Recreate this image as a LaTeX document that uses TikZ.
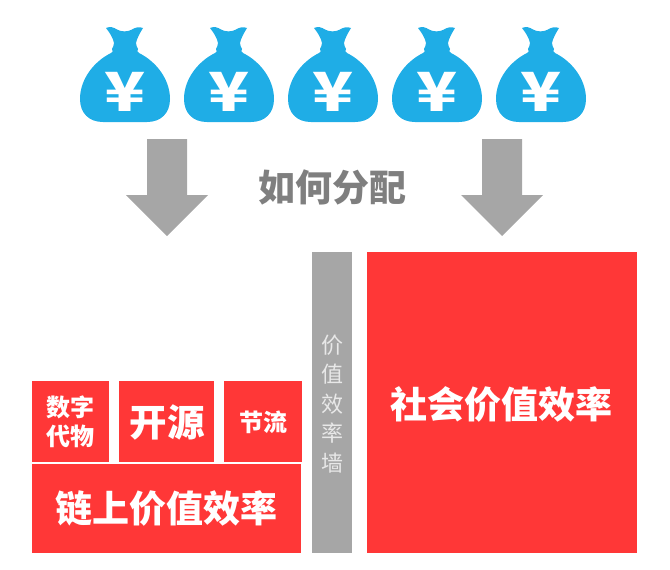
\documentclass[tikz,border=0pt]{standalone}
\usepackage{fontspec}
\newfontfamily\cjk{Noto Sans CJK SC}
\definecolor{bagblue}{HTML}{1FADE6}
\definecolor{redbox}{HTML}{FF3737}
\definecolor{wallgray}{HTML}{A6A6A6}
\definecolor{titlegray}{HTML}{7F7F7F}
\definecolor{walltext}{HTML}{E8E8E8}
\tikzset{
  redrect/.style={fill=redbox,draw=none,inner sep=0pt,outer sep=0pt,anchor=north west},
  label/.style={inner sep=0pt,align=center,text=white,font=\cjk\bfseries},
  flowarrow/.style={fill=wallgray,draw=none},
  moneybag/.pic={
    \fill[bagblue] (-19,-47)
      .. controls (-15,-49) and (-11,-47.5) .. (-8,-45.5)
      .. controls (-4,-43) and (3,-43) .. (7,-45.5)
      .. controls (10,-47.5) and (14,-48.5) .. (18,-47)
      .. controls (15,-42) and (12,-37) .. (11,-32)
      .. controls (11,-30) and (12,-28) .. (13,-26)
      .. controls (12,-24) and (12,-23) .. (14,-22)
      .. controls (32,-13) and (45,5) .. (45,24)
      .. controls (45,38) and (36,47) .. (22,47)
      -- (-22,47)
      .. controls (-36,47) and (-45,38) .. (-45,24)
      .. controls (-45,5) and (-32,-13) .. (-14,-22)
      .. controls (-12,-23) and (-12,-24) .. (-13,-26)
      .. controls (-12,-28) and (-11,-30) .. (-11,-32)
      .. controls (-12,-37) and (-15,-42) .. (-19,-47) -- cycle;
    \node[label,font=\cjk\bfseries\fontsize{54}{54}\selectfont] at (0,17) {\scalebox{1.25}[1]{¥}};
  }
}
\begin{document}
\begin{tikzpicture}[x=1pt,y=-1pt]
\useasboundingbox (0,0) rectangle (670,570);
\foreach \cx in {125,229,333,437,541}
  \pic at (\cx,75) {moneybag};
\fill[flowarrow] (147,139) -- (187,139) -- (187,195) -- (208,195) -- (167,236) -- (126,195) -- (147,195) -- cycle;
\fill[flowarrow] (482,139) -- (522,139) -- (522,195) -- (543,195) -- (502,236) -- (461,195) -- (482,195) -- cycle;
\node[label,text=titlegray,font=\cjk\bfseries\fontsize{37}{37}\selectfont] (title) at (332.5,187) {如何分配};
\node[redrect,minimum width=77pt,minimum height=81pt] (digital) at (32,381) {};
\node[redrect,minimum width=95pt,minimum height=81pt] (open) at (119,381) {};
\node[redrect,minimum width=78pt,minimum height=81pt] (save) at (224,381) {};
\node[redrect,minimum width=269pt,minimum height=89.5pt] (chain) at (32,463.5) {};
\node[fill=wallgray,draw=none,inner sep=0pt,outer sep=0pt,anchor=north west,minimum width=40pt,minimum height=301pt] (wall) at (312,252) {};
\node[redrect,minimum width=270pt,minimum height=301pt] (social) at (367,252) {};
\node[label,font=\cjk\bfseries\fontsize{24}{29}\selectfont] at (70,421.5) {数字\\代物};
\node[label,font=\cjk\bfseries\fontsize{37.5}{38}\selectfont] at (167,422) {开源};
\node[label,font=\cjk\bfseries\fontsize{24}{24}\selectfont] at (263,422) {节流};
\node[label,font=\cjk\bfseries\fontsize{37}{37}\selectfont] at (167,509) {链上价值效率};
\node[label,font=\cjk\bfseries\fontsize{37}{37}\selectfont] at (501,404) {社会价值效率};
\node[label,text=walltext,font=\cjk\fontsize{22}{29.5}\selectfont] at (332,404) {价\\值\\效\\率\\墙};
\end{tikzpicture}
\end{document}
